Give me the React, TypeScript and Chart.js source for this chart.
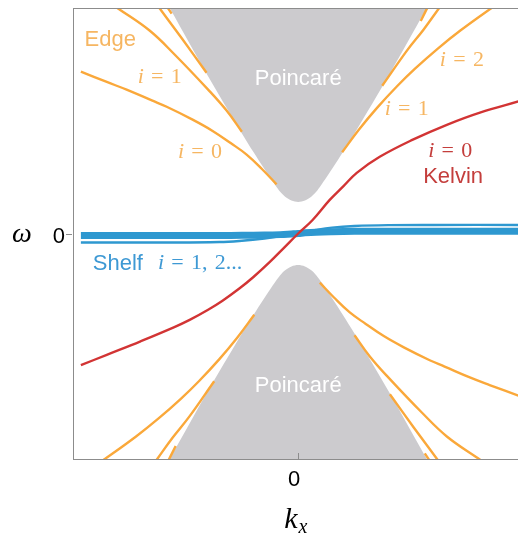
import React, { useEffect, useRef } from "react";
import { Chart, registerables } from "chart.js";

Chart.register(...registerables);

// ---------- data (k = wavenumber, w = frequency) ----------
const gapK = [-0.64, -0.565, -0.408, -0.25, -0.198, -0.153, -0.125, -0.1, -0.08, -0.058, -0.03, 0, 0.03, 0.058, 0.08, 0.1, 0.125, 0.153, 0.198, 0.25, 0.408, 0.565, 0.64];
const poincareUpperW = [1.12, 0.99, 0.711, 0.444, 0.36, 0.29, 0.248, 0.212, 0.185, 0.163, 0.146, 0.14, 0.146, 0.163, 0.185, 0.212, 0.248, 0.29, 0.36, 0.444, 0.711, 0.99, 1.12];
const poincareLowerW = [-1.12, -0.99, -0.711, -0.444, -0.36, -0.29, -0.248, -0.212, -0.185, -0.163, -0.146, -0.14, -0.146, -0.163, -0.185, -0.212, -0.248, -0.29, -0.36, -0.444, -0.711, -0.99, -1.12];

// edge modes, upper-left branch
const ul0K = [-0.965, -0.85, -0.762, -0.65, -0.584, -0.469, -0.38, -0.3, -0.229, -0.16, -0.096];
const ul0W = [0.718, 0.672, 0.638, 0.59, 0.562, 0.505, 0.455, 0.401, 0.35, 0.285, 0.218];
const ul1K = [-0.84, -0.8, -0.66, -0.55, -0.4, -0.318, -0.25];
const ul1W = [1.025, 0.998, 0.9, 0.795, 0.638, 0.545, 0.451];
const ul2K = [-0.635, -0.513, -0.407];
const ul2W = [1.025, 0.86, 0.713];
const ul3K = [-0.592, -0.562];
const ul3W = [1.02, 0.975];
// lower-right branch
const lr0K = [0.096, 0.16, 0.229, 0.3, 0.38, 0.469, 0.584, 0.65, 0.762, 0.85, 0.98];
const lr0W = [-0.218, -0.285, -0.35, -0.401, -0.455, -0.505, -0.562, -0.59, -0.638, -0.672, -0.72];
const lr1K = [0.25, 0.318, 0.4, 0.55, 0.66, 0.8, 0.84];
const lr1W = [-0.451, -0.545, -0.638, -0.795, -0.9, -0.998, -1.025];
const lr2K = [0.407, 0.513, 0.635];
const lr2W = [-0.713, -0.86, -1.025];
const lr3K = [0.562, 0.592];
const lr3W = [-0.975, -1.02];
// upper-right branch
const urAK = [0.544, 0.588];
const urAW = [0.942, 1.03];
const urBK = [0.373, 0.482, 0.558, 0.626, 0.645];
const urBW = [0.655, 0.81, 0.906, 1.0, 1.026];
const urCK = [0.195, 0.27, 0.35, 0.44, 0.52, 0.62, 0.72, 0.86, 0.9];
const urCW = [0.36, 0.461, 0.557, 0.654, 0.732, 0.82, 0.9, 1.001, 1.028];
// lower-left branch
const llAK = [-0.588, -0.544];
const llAW = [-1.03, -0.942];
const llBK = [-0.645, -0.626, -0.558, -0.482, -0.373];
const llBW = [-1.026, -1.0, -0.906, -0.81, -0.655];
const llCK = [-0.9, -0.86, -0.72, -0.62, -0.52, -0.44, -0.35, -0.27, -0.195];
const llCW = [-1.028, -1.001, -0.9, -0.82, -0.732, -0.654, -0.557, -0.461, -0.36];

// Kelvin mode
const kelvinK = [-0.965, -0.85, -0.7, -0.55, -0.482, -0.4, -0.336, -0.26, -0.2, -0.127, -0.06, 0, 0.064, 0.14, 0.2, 0.26, 0.362, 0.509, 0.66, 0.807, 0.98];
const kelvinW = [-0.584, -0.538, -0.478, -0.415, -0.383, -0.338, -0.298, -0.243, -0.194, -0.127, -0.06, 0, 0.06, 0.149, 0.209, 0.269, 0.34, 0.416, 0.482, 0.536, 0.586];

// shelf modes
const shelfK = [-0.965, -0.6, -0.35, -0.25, -0.15, -0.08, -0.03, 0, 0.03, 0.08, 0.15, 0.25, 0.4, 0.6, 0.98];
const shelfBandW = [-0.009, -0.009, -0.009, -0.008, -0.007, -0.005, -0.002, 0, 0.003, 0.006, 0.008, 0.0095, 0.01, 0.01, 0.01];
const shelfThinW = [-0.04, -0.04, -0.038, -0.032, -0.022, -0.012, -0.004, 0, 0.006, 0.016, 0.026, 0.033, 0.037, 0.038, 0.038];

// axes
const kRange = [-1, 0.976];
const wRange = [-1, 1];
const kTicks = [0];
const wTicks = [0];

// annotations
const labelTexts = ["Edge", "Poincaré", "Poincaré", "Kelvin", "Shelf", "i = 1", "i = 0", "i = 2", "i = 1", "i = 0", "i = 1, 2..."];
const labelK = [-0.949, 0, 0, 0.555, -0.912, -0.713, -0.534, 0.629, 0.384, 0.577, -0.623];
const labelW = [0.83, 0.66, -0.703, 0.226, -0.162, 0.669, 0.334, 0.741, 0.527, 0.341, -0.158];
const labelKind = ["sans", "sans", "sans", "sans", "sans", "math", "math", "math", "math", "math", "math"];
const labelRole = ["edge", "bulk", "bulk", "kelvin", "shelf", "edge", "edge", "edge", "edge", "kelvin", "shelf"];

const COLORS: Record<string, string> = {
  edge: "rgb(250,168,58)",
  edgeText: "rgb(246,182,98)",
  kelvin: "rgb(210,52,52)",
  kelvinText: "rgb(196,62,60)",
  shelf: "rgb(46,152,208)",
  shelfText: "rgb(62,153,212)",
  bulk: "rgb(204,203,206)",
  bulkText: "#ffffff",
  frame: "#8c8c8c",
};

const SANS = '"Liberation Sans", Arial, Helvetica, sans-serif';
const SERIF = '"Liberation Serif", "Times New Roman", serif';

function pts(k: number[], w: number[]) {
  return k.map((x, i) => ({ x, y: w[i] }));
}

function drawMath(ctx: CanvasRenderingContext2D, text: string, x: number, y: number, size: number) {
  let cx = x;
  for (const ch of text) {
    if (ch === " ") {
      cx += size * 0.33;
      continue;
    }
    const italic = /[a-z]/i.test(ch);
    ctx.font = `${italic ? "italic " : ""}${size}px ${SERIF}`;
    ctx.fillText(ch, cx, y);
    cx += ctx.measureText(ch).width;
  }
}

const decorPlugin = {
  id: "decor",
  afterDatasetsDraw(chart: any) {
    const { ctx, scales } = chart;
    const xs = scales.x;
    const ys = scales.y;
    ctx.save();
    ctx.textBaseline = "alphabetic";
    labelTexts.forEach((t, i) => {
      const px = xs.getPixelForValue(labelK[i]);
      const py = ys.getPixelForValue(labelW[i]);
      ctx.fillStyle = COLORS[labelRole[i] + "Text"];
      if (labelKind[i] === "sans") {
        ctx.font = `22px ${SANS}`;
        ctx.textAlign = labelRole[i] === "bulk" ? "center" : "left";
        ctx.fillText(t, px, py);
      } else {
        ctx.textAlign = "left";
        drawMath(ctx, t, px, py, 22);
      }
    });
    ctx.restore();
  },
  afterDraw(chart: any) {
    const { ctx, chartArea, scales } = chart;
    const xs = scales.x;
    const ys = scales.y;
    ctx.save();
    ctx.strokeStyle = COLORS.frame;
    ctx.lineWidth = 1;
    ctx.beginPath();
    ctx.moveTo(chartArea.left, Math.round(chartArea.top) + 0.5);
    ctx.lineTo(chartArea.right, Math.round(chartArea.top) + 0.5);
    ctx.stroke();
    wTicks.forEach((v) => {
      const py = Math.round(ys.getPixelForValue(v)) + 0.5;
      ctx.beginPath();
      ctx.moveTo(chartArea.left - 7, py);
      ctx.lineTo(chartArea.left - 1, py);
      ctx.stroke();
    });
    kTicks.forEach((v) => {
      const px = Math.round(xs.getPixelForValue(v)) + 0.5;
      ctx.beginPath();
      ctx.moveTo(px, chartArea.bottom);
      ctx.lineTo(px, chartArea.bottom - 6);
      ctx.stroke();
    });
    ctx.fillStyle = "#000";
    ctx.textBaseline = "alphabetic";
    ctx.textAlign = "center";
    ctx.font = `italic 28px ${SERIF}`;
    ctx.fillText("ω", chartArea.left - 51, ys.getPixelForValue(0) + 8.5);
    const x0 = xs.getPixelForValue(0);
    ctx.textAlign = "left";
    ctx.font = `italic 30px ${SERIF}`;
    ctx.fillText("k", x0 - 14, chartArea.bottom + 69);
    const kw = ctx.measureText("k").width;
    ctx.font = `italic 20px ${SERIF}`;
    ctx.fillText("x", x0 - 14 + kw + 1, chartArea.bottom + 74);
    ctx.restore();
  },
};

export default function App() {
  const ref = useRef<HTMLCanvasElement | null>(null);

  useEffect(() => {
    if (!ref.current) return;
    const line = (k: number[], w: number[], color: string, width: number, order: number, tension = 0.4) => ({
      data: pts(k, w),
      borderColor: color,
      backgroundColor: color,
      borderWidth: width,
      pointRadius: 0,
      pointHoverRadius: 0,
      fill: false,
      tension,
      clip: 0,
      order,
    });
    const edgeSets = [
      [ul0K, ul0W], [ul1K, ul1W], [ul2K, ul2W], [ul3K, ul3W],
      [lr0K, lr0W], [lr1K, lr1W], [lr2K, lr2W], [lr3K, lr3W],
      [urAK, urAW], [urBK, urBW], [urCK, urCW],
      [llAK, llAW], [llBK, llBW], [llCK, llCW],
    ].map(([k, w]) => line(k, w, COLORS.edge, 2.4, 3));

    const chart = new Chart(ref.current, {
      type: "line",
      data: {
        datasets: [
          { ...line(gapK, poincareUpperW, COLORS.bulk, 0, 10, 0.3), fill: "end", backgroundColor: COLORS.bulk },
          { ...line(gapK, poincareLowerW, COLORS.bulk, 0, 10, 0.3), fill: "start", backgroundColor: COLORS.bulk },
          ...edgeSets,
          line(shelfK, shelfThinW, COLORS.shelf, 2.4, 2),
          line(shelfK, shelfBandW, COLORS.shelf, 7, 2),
          line(kelvinK, kelvinW, COLORS.kelvin, 2.4, 1),
        ] as any,
      },
      options: {
        animation: false,
        responsive: false,
        devicePixelRatio: 1,
        events: [],
        layout: { padding: { top: 8, right: 0, left: 0, bottom: 0 } },
        plugins: {
          legend: { display: false },
          tooltip: { enabled: false },
          filler: { propagate: false },
        },
        scales: {
          x: {
            type: "linear",
            min: kRange[0],
            max: kRange[1],
            afterBuildTicks: (s: any) => {
              s.ticks = kTicks.map((v) => ({ value: v }));
            },
            afterFit: (s: any) => {
              s.height = 77;
              s.paddingLeft = 0;
              s.paddingRight = 0;
              s.paddingTop = 0;
              s.paddingBottom = 0;
            },
            ticks: {
              font: { size: 22, family: SANS },
              color: "#000",
              padding: 8,
              labelOffset: -4,
              maxRotation: 0,
              callback: (v: any) => String(v),
            },
            grid: { display: false, drawTicks: false },
            border: { display: true, color: COLORS.frame, width: 1 },
          },
          y: {
            type: "linear",
            min: wRange[0],
            max: wRange[1],
            afterBuildTicks: (s: any) => {
              s.ticks = wTicks.map((v) => ({ value: v }));
            },
            afterFit: (s: any) => {
              s.width = 73;
              s.paddingLeft = 0;
              s.paddingRight = 0;
              s.paddingTop = 0;
              s.paddingBottom = 0;
            },
            ticks: {
              font: { size: 22, family: SANS },
              color: "#000",
              padding: 8,
              labelOffset: 3,
              callback: (v: any) => String(v),
            },
            grid: { display: false, drawTicks: false },
            border: { display: true, color: COLORS.frame, width: 1 },
          },
        },
      } as any,
      plugins: [decorPlugin],
    });
    return () => chart.destroy();
  }, []);

  return (
    <div style={{ position: "absolute", left: 0, top: 0, width: 518, height: 536, background: "#fff" }}>
      <canvas ref={ref} width={518} height={536} style={{ display: "block" }} />
    </div>
  );
}
